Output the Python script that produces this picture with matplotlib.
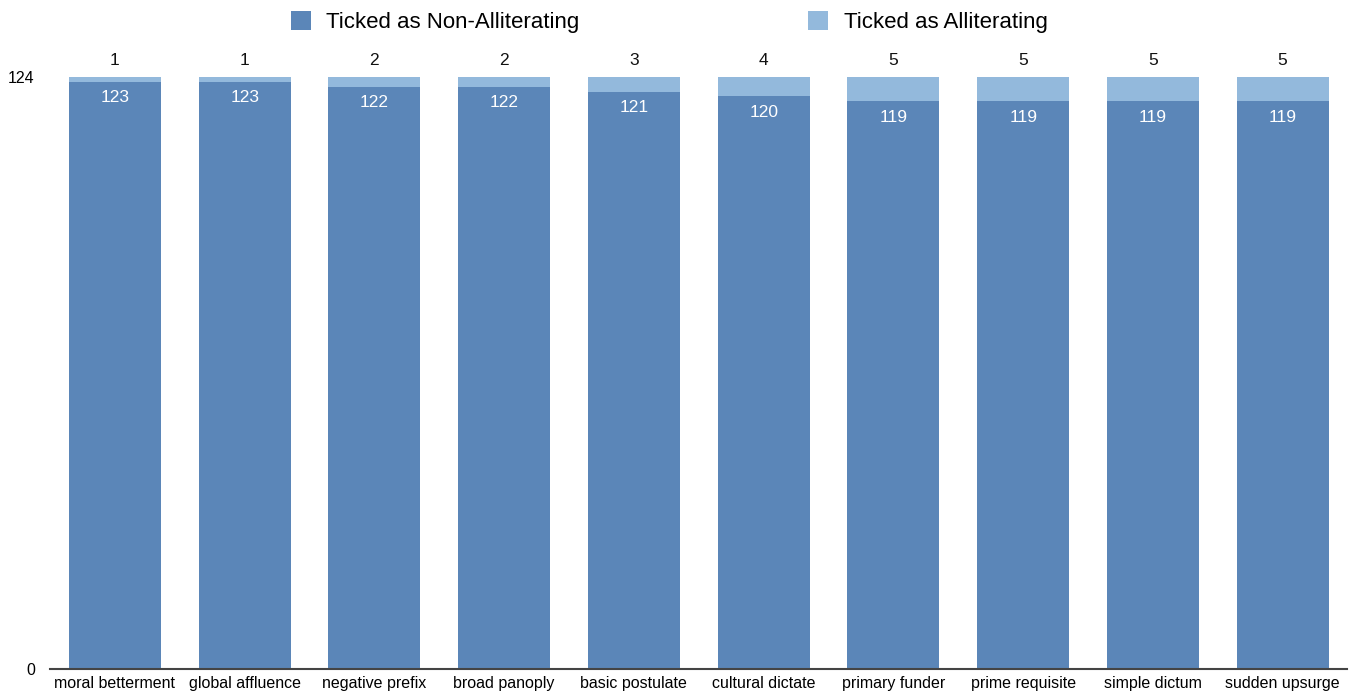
import matplotlib
matplotlib.use('Agg')
from matplotlib import pyplot as plt
from matplotlib.patches import Patch

plt.rcParams['font.family'] = ['Liberation Sans', 'DejaVu Sans']

# phrases and tick counts
phrases = ['moral betterment', 'global affluence', 'negative prefix', 'broad panoply',
           'basic postulate', 'cultural dictate', 'primary funder', 'prime requisite',
           'simple dictum', 'sudden upsurge']
non_alliterating = [123, 123, 122, 122, 121, 120, 119, 119, 119, 119]
alliterating = [1, 1, 2, 2, 3, 4, 5, 5, 5, 5]
y_ticks = [0, 124]

dark = '#5b86b8'
light = '#93b9dc'

fig = plt.figure(figsize=(13.6, 6.93), dpi=100)
ax = fig.add_axes([0.0368, 0.0346, 0.954, 0.854])

x = list(range(len(phrases)))
ax.bar(x, non_alliterating, width=0.71, color=dark, edgecolor='none')
ax.bar(x, alliterating, width=0.71, bottom=non_alliterating, color=light, edgecolor='none')

for i in x:
    ax.annotate(str(non_alliterating[i]), (i, non_alliterating[i]), xytext=(0, -16),
                textcoords='offset pixels', ha='center', va='center',
                color='white', fontsize=12.5)
    ax.annotate(str(alliterating[i]), (i, non_alliterating[i] + alliterating[i]),
                xytext=(0, 17), textcoords='offset pixels', ha='center', va='center',
                color='#111111', fontsize=12.5)

ax.set_xlim(-0.5, 9.5)
ax.set_ylim(0, 124)
ax.set_xticks(x)
ax.set_xticklabels(phrases, fontsize=11.5)
ax.set_yticks(y_ticks)
ax.set_yticklabels([str(t) for t in y_ticks], fontsize=11.5)
ax.tick_params(axis='x', length=0, pad=5)
ax.tick_params(axis='y', length=0, pad=11)

for side in ['top', 'right', 'left']:
    ax.spines[side].set_visible(False)
ax.spines['bottom'].set_color('#444444')
ax.spines['bottom'].set_linewidth(1.5)

handles = [Patch(facecolor=dark, label='Ticked as Non-Alliterating'),
           Patch(facecolor=light, label='Ticked as Alliterating')]
fig.legend(handles=handles, loc='center', bbox_to_anchor=(0.492, 0.968), ncol=2,
           frameon=False, fontsize=16, handlelength=0.9, handleheight=0.9,
           handletextpad=0.7, columnspacing=10.3)

fig.savefig('out.png', dpi=100)
